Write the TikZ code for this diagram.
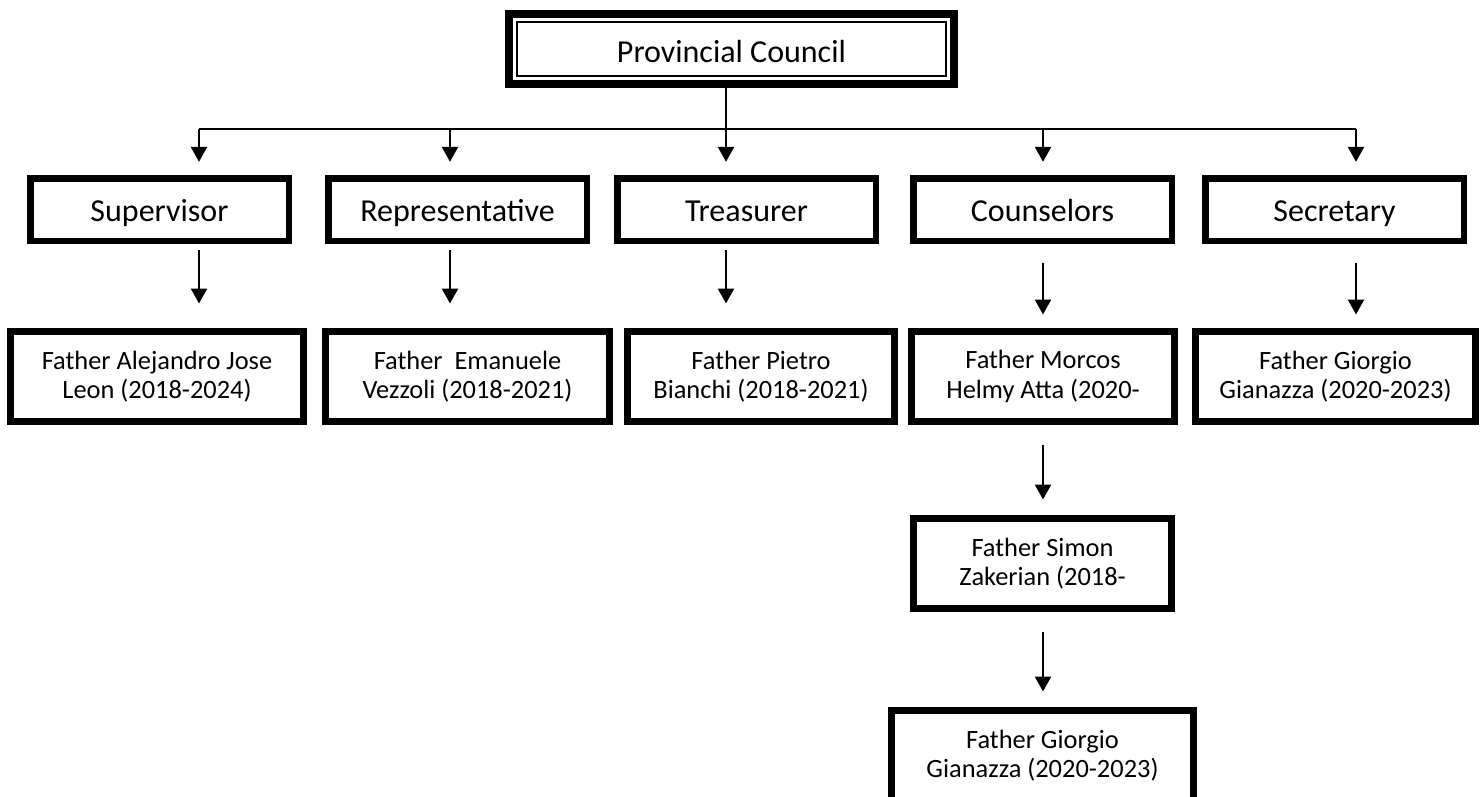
\documentclass[tikz,border=0pt]{standalone}
\usepackage{fontspec}
\setmainfont{Carlito}
\usetikzlibrary{positioning,arrows.meta}

\begin{document}
\begin{tikzpicture}[x=0.5pt,y=-0.5pt,>={Triangle[length=7.5pt,width=8pt]},line width=1.25pt,
	council/.style={draw,line width=4pt,minimum width=222.5pt,minimum height=35pt,inner sep=0pt,text height=15pt,text depth=1pt,font=\fontsize{16}{19}\selectfont},
	councilin/.style={draw,line width=1pt,minimum width=214.5pt,minimum height=27pt,inner sep=0pt},
	role/.style={draw,line width=3.25pt,minimum width=129.25pt,minimum height=31.25pt,inner sep=0pt,text height=14pt,text depth=1.8pt,font=\fontsize{16}{19}\selectfont},
	member/.style={draw,line width=3.5pt,minimum height=45pt,inner sep=0pt,align=center,font=\fontsize{13.2}{14.6}\selectfont}]
	\clip (0,0) rectangle (1483,797);
	% top
	\node[council] (pc) at (731.5,49) {Provincial Council};
	\node[councilin] (pcin) at (pc) {};
	% offices
	\node[role] (sup) at (159.5,209.5) {Supervisor};
	\node[role] (rep) at (457.5,209.5) {Representative};
	\node[role] (tre) at (746.5,209.5) {Treasurer};
	\node[role] (cou) at (1042.5,209.5) {Counselors};
	\node[role] (sec) at (1334.5,209.5) {Secretary};
	% members
	\node[member,minimum width=146.5pt] (alej) at (157,376.5) {Father Alejandro Jose\\Leon (2018-2024)};
	\node[member,minimum width=142pt] (eman) at (467.5,376.5) {Father\ \ Emanuele\\Vezzoli (2018-2021)};
	\node[member,minimum width=133.5pt] (piet) at (761,376.5) {Father Pietro\\Bianchi (2018-2021)};
	\node[member,minimum width=131.5pt] (morc) at (1043,376.5) {Father Morcos\\Helmy Atta (2020-};
	\node[member,minimum width=140pt] (gior) at (1335.5,376.5) {Father Giorgio\\Gianazza (2020-2023)};
	\node[member,minimum width=129pt] (simon) at (1042.5,563.5) {Father Simon\\Zakerian (2018-};
	\node[member,minimum width=151pt] (gian) at (1042.5,755.5) {Father Giorgio\\Gianazza (2020-2023)};
	% branch points
	\coordinate (j) at (726,129);
	\coordinate (b1) at (199,129);
	\coordinate (b2) at (450,129);
	\coordinate (b4) at (1043,129);
	\coordinate (b5) at (1356,129);
	\draw (pc.south -| j) -- (j);
	\draw (b1) -- (b5);
	\path[->,shorten >=6.6pt]
	(b1) edge (b1 |- sup.north)
	(b2) edge (b2 |- rep.north)
	(j) edge (j |- tre.north)
	(b4) edge (b4 |- cou.north)
	(b5) edge (b5 |- sec.north);
	\path[->,shorten <=3.1pt,shorten >=12.25pt]
	(sup.south -| b1) edge (alej.north -| b1)
	(rep.south -| b2) edge (eman.north -| b2)
	(tre.south -| j) edge (piet.north -| j);
	\path[->,shorten <=9.6pt,shorten >=6.75pt]
	(cou.south -| b4) edge (morc.north -| b4)
	(sec.south -| b5) edge (gior.north -| b5);
	\path[->,shorten <=9.75pt,shorten >=7.75pt]
	(morc.south -| b4) edge (simon.north -| b4)
	(simon.south -| b4) edge (gian.north -| b4);
\end{tikzpicture}
\end{document}
